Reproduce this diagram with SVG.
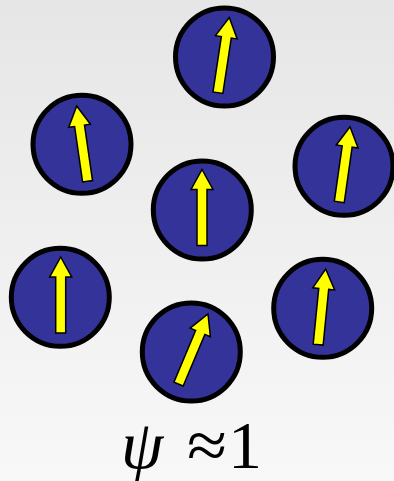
<svg xmlns="http://www.w3.org/2000/svg" xmlns:xlink="http://www.w3.org/1999/xlink" width="394" height="481" viewBox="0 0 394 481">
<defs>
<linearGradient id="bg" x1="0" y1="0" x2="0" y2="1">
<stop offset="0" stop-color="#e6e6e6"/>
<stop offset="1" stop-color="#f8f8f8"/>
</linearGradient>
<path id="arrow" d="M0,0 L11,20 L5,20 L5,76 L-5,76 L-5,20 L-11,20 Z"/>
</defs>
<style>
.atom{fill:#333399;stroke:#000;stroke-width:5}
.spin{fill:#ffff00;stroke:#000;stroke-width:1.5;stroke-linejoin:miter}
.lbl{font-family:"Liberation Serif","Times New Roman",serif;font-size:68px;fill:#000}
</style>
<rect width="394" height="481" fill="url(#bg)"/>
<g id="atom1"><circle class="atom" cx="224.5" cy="57" r="49"/><use class="spin" xlink:href="#arrow" transform="translate(229.3,17.5) rotate(8.6)"/></g>
<g id="atom2"><circle class="atom" cx="82" cy="144.3" r="49"/><use class="spin" xlink:href="#arrow" transform="translate(76.7,106) rotate(-8.2)"/></g>
<g id="atom3"><circle class="atom" cx="344" cy="166.3" r="49"/><use class="spin" xlink:href="#arrow" transform="translate(350,126.7) rotate(8.1)"/></g>
<g id="atom4"><circle class="atom" cx="202.3" cy="210" r="49"/><use class="spin" xlink:href="#arrow" transform="translate(202,169.5) rotate(0)"/></g>
<g id="atom5"><circle class="atom" cx="60.3" cy="297.3" r="49"/><use class="spin" xlink:href="#arrow" transform="translate(60.7,257) rotate(0)"/></g>
<g id="atom6"><circle class="atom" cx="191.3" cy="352" r="49"/><use class="spin" xlink:href="#arrow" transform="translate(208,314) rotate(22.8)"/></g>
<g id="atom7"><circle class="atom" cx="322.7" cy="308.3" r="49"/><use class="spin" xlink:href="#arrow" transform="translate(325.7,269) rotate(5.7)"/></g>
<g id="label">
<text class="lbl" x="121" y="468" font-style="italic">ψ</text>
<text class="lbl" x="187" y="468" textLength="40" lengthAdjust="spacingAndGlyphs">≈</text>
<text class="lbl" x="228" y="468">1</text>
</g>
</svg>
